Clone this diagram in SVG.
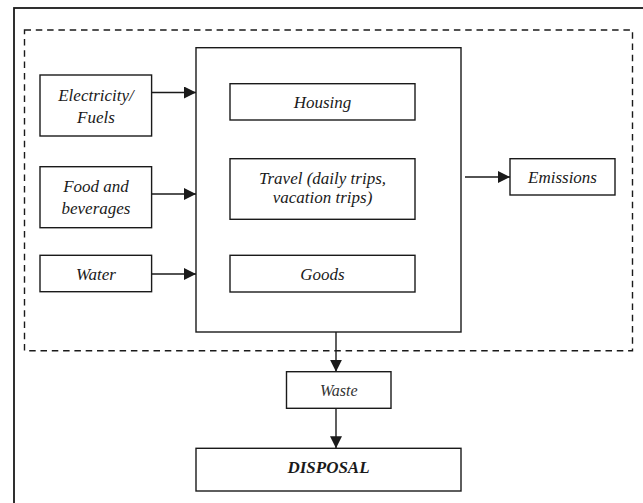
<svg xmlns="http://www.w3.org/2000/svg" width="643" height="503" viewBox="0 0 643 503">
<defs>
<style>
.box{fill:#fff;stroke:#1a1a1a;stroke-width:1.4}
.t{font-family:"Liberation Serif","Times New Roman",serif;font-style:italic;font-size:17px;fill:#1a1a1a;text-anchor:middle}
.b{font-weight:bold}
.c{stroke:#1a1a1a;stroke-width:1.4;fill:none;marker-end:url(#ah)}
</style>
<marker id="ah" viewBox="0 0 12 12" refX="12" refY="6" markerWidth="12" markerHeight="12" markerUnits="userSpaceOnUse" orient="auto">
<path d="M0,0 L12,6 L0,12 Z" fill="#1a1a1a"/>
</marker>
</defs>
<rect width="643" height="503" fill="#fff"/>
<rect id="outer" x="14" y="8" width="640" height="510" fill="none" stroke="#1a1a1a" stroke-width="1.8"/>
<rect id="boundary" x="24.5" y="30" width="608" height="320.7" fill="none" stroke="#1a1a1a" stroke-width="1.4" stroke-dasharray="6.5,4.8"/>
<g id="connectors">
<line class="c" x1="152" y1="92.5" x2="196" y2="92.5"/>
<line class="c" x1="152" y1="194" x2="196" y2="194"/>
<line class="c" x1="152" y1="274" x2="196" y2="274"/>
<line class="c" x1="465" y1="177" x2="510" y2="177"/>
<line class="c" x1="336" y1="332" x2="336" y2="371.7"/>
<line class="c" x1="336" y1="408.3" x2="336" y2="448.3"/>
</g>
<g id="main"><rect class="box" x="196" y="47.7" width="265" height="284.3"/></g>
<g id="electricity"><rect class="box" x="40" y="75" width="111.6" height="61"/><text class="t" x="96" y="100.5">Electricity/</text><text class="t" x="96" y="122.5">Fuels</text></g>
<g id="food"><rect class="box" x="40" y="166.7" width="111.6" height="61"/><text class="t" x="96" y="192">Food and</text><text class="t" x="96" y="213.5">beverages</text></g>
<g id="water"><rect class="box" x="40" y="255.3" width="111.6" height="36.4"/><text class="t" x="96" y="280">Water</text></g>
<g id="housing"><rect class="box" x="230" y="83.7" width="185" height="36.3"/><text class="t" x="322.5" y="108">Housing</text></g>
<g id="travel"><rect class="box" x="230" y="158.7" width="185" height="60.6"/><text class="t" x="322.5" y="184.3">Travel (daily trips,</text><text class="t" x="322.5" y="203">vacation trips)</text></g>
<g id="goods"><rect class="box" x="230" y="255.3" width="185" height="36.7"/><text class="t" x="322.5" y="280">Goods</text></g>
<g id="emissions"><rect class="box" x="510" y="158.7" width="105" height="36.3"/><text class="t" x="562.5" y="183.3">Emissions</text></g>
<g id="waste"><rect class="box" x="286.5" y="371.7" width="104.5" height="36.6"/><text class="t" x="338.7" y="395.7" style="font-size:16px;fill:#333">Waste</text></g>
<g id="disposal"><rect class="box" x="196" y="448.3" width="265" height="42.7"/><text class="t b" x="328.5" y="472.7">DISPOSAL</text></g>
</svg>
